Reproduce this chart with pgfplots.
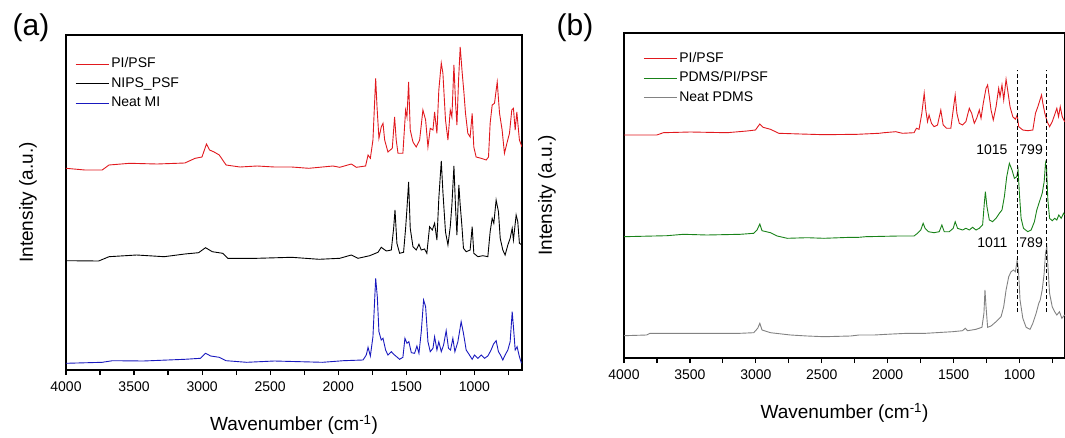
\documentclass[border=0pt]{standalone}
\usepackage{pgfplots}
\pgfplotsset{compat=1.18}
\usepackage{fontspec}
\setmainfont{Liberation Sans}

\definecolor{specred}{RGB}{225,25,30}
\definecolor{specblue}{RGB}{25,25,190}
\definecolor{specgreen}{RGB}{25,130,25}
\definecolor{specgray}{RGB}{130,130,130}

\pgfplotsset{
  ftir/.style={
    scale only axis,
    x dir=reverse,
    xmax=4000,
    ymin=0,
    axis line style={line width=1.6pt},
    xtick={1000,1500,...,4000},
    minor xtick={750,1250,...,3750},
    xtick pos=bottom,
    tick align=outside,
    major tick length=5pt, minor tick length=5pt,
    every tick/.style={black, line width=1.2pt},
    ytick=\empty,
    /pgf/number format/set thousands separator={},
    /pgf/number format/assume math mode=true,
    tick label style={font=\fontsize{14}{16}\selectfont},
    xticklabel style={yshift=-3pt},
    xlabel={Wavenumber (cm\textsuperscript{-1})},
    ylabel={Intensity (a.u.)},
    xlabel style={font=\fontsize{19}{22}\selectfont, at={(0.5,0)}, anchor=center, yshift=-55pt},
    ylabel style={font=\fontsize{19}{22}\selectfont, at={(0,0.5)}, anchor=center, rotate=0, yshift=38pt},
    legend cell align=left,
    legend image code/.code={\draw[##1, line width=1.1pt] (0pt,0pt) -- (33pt,0pt);},
    legend style={draw=none, fill=none, at={(0,1)}, anchor=north west,
      xshift=9pt, yshift=-10pt, inner sep=0pt, row sep=2.5pt,
      font=\fontsize{14}{16}\selectfont,
      nodes={text height=10pt, text depth=3pt, inner sep=2pt}},
    every axis plot/.append style={line width=0.9pt},
  }
}

\begin{document}
\begin{tikzpicture}
\path[use as bounding box] (0,0) rectangle (1065pt,437pt);

% (a)
\node[font=\fontsize{30}{34}\selectfont] at (31pt,409pt) {(a)};
\begin{axis}[ftir, at={(66pt,67pt)}, anchor=south west,
  width=456pt, height=335pt, xmin=650, ymax=335,
  legend style={yshift=-10.6pt}]
\addplot[color=specred] coordinates {
(4000,201.7)(3861,200)(3734,200)(3684,205)(3532,206.7)(3330,206)(3127,207)(3051,211.7)
(3001,213)(2968,226)(2945,220)(2912,218)(2874,215)(2824,205)(2722,203)(2596,204)
(2469,203)(2343,203)(2216,201.7)(2039,204)
(1989,202.7)(1904,206)(1867,202.7)(1799,204)(1781,215)(1764,211.7)(1745,230)(1725,291.7)
(1715,263)(1701,231.7)(1684,243)(1671,246.7)(1659,230)(1635,218)(1603,221.7)(1586,253)
(1574,230)(1561,216.7)(1525,216.7)(1505,260)(1495,253)(1483,288)(1471,240)(1451,228)
(1427,223)(1402,230)(1378,260)(1358,250)(1341,223)(1324,241.7)(1304,240)(1292,258)
(1275,236.7)(1261,280)(1243,307)(1231,296.7)(1212,250)(1194,230)(1177,260)(1165,253)
(1150,305)(1138,266.7)(1128,245)(1116,290)(1104,323)(1089,296.7)(1077,278)(1065,256.7)
(1048,236.7)(1031,233)(1016,256.7)(1004,223)(987,213)(950,211.7)(913,210)(896,213)
(884,246.7)(869,265)(852,266.7)(832,288)(815,256.7)(796,240)(779,216.7)(761,226.7)
(742,236.7)(725,260)(713,261.7)(700,240)(688,258)(669,230)(650,223)
};
\addlegendentry{PI/PSF}
\addplot[color=black] coordinates {
(4000,109.3)(3760,109)(3684,113.3)(3481,115)(3279,113.3)(3127,116)(3026,117.3)(2975,122.3)
(2925,118.3)(2849,116.7)(2811,111.7)(2596,111.7)(2343,112.7)(2140,110.7)(1989,111.7)
(1904,115)(1855,111.7)(1769,114.3)(1708,117.7)(1684,122.7)(1647,119)(1610,120)(1593,141.7)
(1583,160)(1569,126.7)(1549,116.7)(1520,117.7)(1505,141.7)(1495,161.7)(1483,188)(1471,141.7)
(1451,123.3)(1427,120)(1407,125.7)(1390,120)(1366,121)(1349,116.7)(1329,143.3)(1309,140)
(1292,146.7)(1275,130)(1261,171.7)(1243,209)(1231,178)(1212,138)(1194,125)(1177,143.3)
(1165,165)(1150,204)(1138,161.7)(1128,135)(1114,185)(1104,165)(1092,145)(1080,121.7)
(1060,118.3)(1031,120)(1016,143.3)(1004,116.7)(974,113.3)(938,114.3)(901,113.3)(884,138.3)
(869,151.7)(857,146.7)(840,170)(823,158.3)(810,131.7)(791,120)(774,115)(754,125)
(737,131.7)(722,141.7)(713,130)(693,155)(681,148.3)(669,126.7)(650,125)
};
\addlegendentry{NIPS\_PSF}
\addplot[color=specblue] coordinates {
(4000,6.7)(3734,7.7)(3658,9.3)(3431,9)(3127,10.7)(3013,11.7)(2975,16.7)(2937,14)
(2874,12.7)(2824,9.3)(2672,7.7)(2469,9)(2115,7.7)(1963,9.3)(1818,10)(1794,15)(1781,22.7)
(1764,14)(1745,33.3)(1725,91.7)(1713,73.3)(1701,38.3)(1684,30)(1671,31.7)(1652,20)
(1635,15)(1610,18.3)(1586,15)(1549,10.7)(1525,12.7)(1510,31.7)(1495,26.7)(1481,28.3)
(1463,17.3)(1439,16.7)(1422,24)(1407,16.7)(1390,38.3)(1373,70)(1358,63.3)(1341,28.3)
(1324,18.3)(1304,21.7)(1292,33.3)(1275,20)(1261,28.3)(1243,18.3)(1226,25)(1207,39.3)
(1190,21.7)(1175,20)(1158,31.7)(1143,18.3)(1121,28.3)(1097,48.3)(1080,36.7)(1060,20)
(1036,15)(1016,10.7)(999,15)(974,11.7)(950,15)(925,11.7)(901,14)(877,20)(859,26)
(840,29.3)(823,18.3)(808,15)(791,10)(774,15)(754,20)(737,28.3)(722,58.3)(713,43.3)
(700,20)(686,23.3)(669,13.3)(654,6.7)
};
\addlegendentry{Neat MI}
\end{axis}

% (b)
\node[font=\fontsize{30}{34}\selectfont] at (575pt,409pt) {(b)};
\begin{axis}[ftir, at={(624pt,79pt)}, anchor=south west,
  width=441pt, height=325pt, xmin=655, ymax=325,
  legend style={xshift=10pt, yshift=-7pt},
  ylabel style={yshift=39pt}]
\addplot[color=specred] coordinates {
(4000,223)(3751,223)(3701,225.3)(3498,226)(3219,225.3)(3067,227)(3003,228)(2970,234)
(2945,230.7)(2889,228.7)(2826,224.7)(2661,224)(2483,223.3)(2230,223.7)(2066,224.7)
(2028,225.3)(1939,226.3)(1888,224.7)(1800,225.3)(1782,229.7)(1762,228.7)(1741,244.7)
(1723,264.7)(1711,248)(1698,236.3)(1686,243)(1668,234.7)(1648,231.3)(1622,233)(1597,248)
(1579,233)(1554,229.7)(1521,229.7)(1503,248)(1488,263)(1475,244.7)(1457,234.7)(1432,233)
(1407,236.3)(1381,249.7)(1363,244.7)(1343,234.7)(1325,239.7)(1305,248)(1292,239.7)
(1275,254.7)(1254,269.7)(1242,273)(1229,261.3)(1216,248)(1199,238)(1178,251.3)(1158,269.7)
(1148,261.3)(1133,273)(1120,258)(1102,278.7)(1090,268)(1072,251.3)(1051,241.3)(1031,238.7)
(1018,243)(1006,231.3)(975,228)(937,227.3)(899,228)(879,244.7)(861,251.3)(849,256.3)
(833,263)(823,254.7)(808,244.7)(790,236.3)(772,231.3)(752,236.3)(734,243)(717,249.7)
(704,241.3)(691,251.3)(676,241.3)(658,236.3)
};
\addlegendentry{PI/PSF}
\addplot[color=specgreen] coordinates {
(4000,121.3)(3675,122.3)(3549,123.7)(3371,123)(3117,123.7)(3016,124.7)(2991,128)(2970,134)
(2953,127.3)(2889,125.3)(2838,122)(2762,119.7)(2610,120.3)(2483,119.7)(2280,120.7)
(2218,120.7)(2167,121.3)(1914,122)(1800,122)(1774,124.7)(1749,128)(1731,134.7)(1716,129.7)
(1691,126.3)(1648,125.3)(1609,126.3)(1589,133)(1571,126.3)(1533,126.3)(1503,129.7)
(1488,136.3)(1470,129.7)(1432,128)(1407,129.7)(1381,128)(1356,130.7)(1330,128)(1305,129.7)
(1280,133)(1267,154.7)(1259,166.3)(1247,151.3)(1229,138)(1204,136.3)(1178,139.7)
(1153,144.7)(1133,148)(1115,161.3)(1097,181.3)(1077,194.7)(1057,188)(1039,179.7)
(1021,181.3)(1011,188)(1001,164.7)(988,139.7)(970,129.7)(937,126.3)(912,128)(887,136.3)
(869,148)(849,156.3)(828,164.7)(813,176.3)(803,194.7)(795,189.7)(785,158)(772,139.7)
(752,137.3)(734,139.7)(717,138)(702,143)(684,139.7)(666,144.7)(658,143)
};
\addlegendentry{PDMS/PI/PSF}
\addplot[color=specgray] coordinates {
(4000,22.3)(3828,23)(3802,24.7)(3117,24.7)(3016,25.3)(2986,29.7)(2970,34.7)(2953,28)
(2889,25.3)(2737,23)(2610,22)(2483,21.3)(2280,22)(2218,23)(2103,23)(1964,24)(1850,24.7)
(1711,24.7)(1508,26.3)(1432,27.3)(1412,29.7)(1394,27.3)(1330,28.7)(1285,30.7)(1270,44.7)
(1262,68)(1254,51.3)(1242,30.7)(1216,32)(1178,36.3)(1140,41.3)(1120,51.3)(1102,68)
(1082,81.3)(1064,86.3)(1046,88)(1031,86.3)(1018,98)(1008,88)(996,58)(975,39.7)(950,30.7)
(920,28.7)(899,34.7)(874,44.7)(854,54.7)(843,58)(828,68)(813,84.7)(803,104.7)(793,111.3)
(783,88)(772,64.7)(752,51.3)(734,46.3)(717,43)(697,46.3)(679,39.7)(658,43)
};
\addlegendentry{Neat PDMS}
\addplot[black, line width=1pt, dash pattern=on 4pt off 2.5pt, forget plot]
  coordinates {(1015,46)(1015,288)};
\addplot[black, line width=1pt, dash pattern=on 4pt off 2.5pt, forget plot]
  coordinates {(799,46)(799,288)};
\node[anchor=east, inner sep=0pt, font=\fontsize{14}{16}\selectfont] at (axis cs:1090,208) {1015};
\node[anchor=west, inner sep=0pt, font=\fontsize{14}{16}\selectfont] at (axis cs:1002,208) {799};
\node[anchor=east, inner sep=0pt, font=\fontsize{14}{16}\selectfont] at (axis cs:1090,115) {1011};
\node[anchor=west, inner sep=0pt, font=\fontsize{14}{16}\selectfont] at (axis cs:1002,115) {789};
\end{axis}
\end{tikzpicture}
\end{document}
